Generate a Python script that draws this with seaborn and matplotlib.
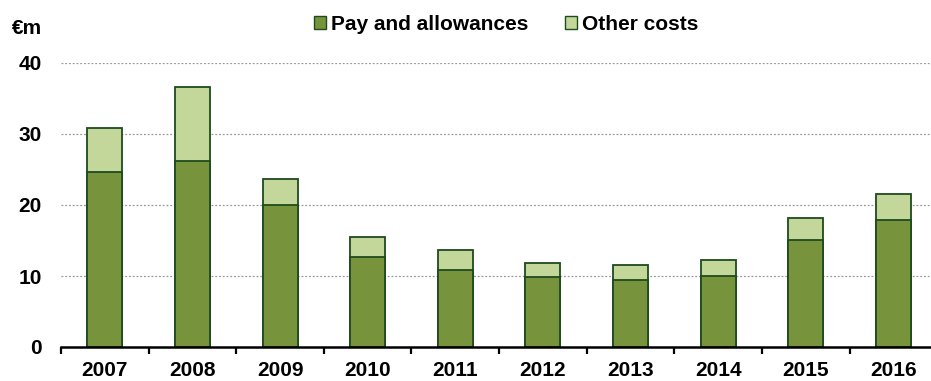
import matplotlib
matplotlib.use("Agg")
import matplotlib.pyplot as plt
import seaborn as sns
import pandas as pd
import numpy as np
from matplotlib.patches import Patch
from matplotlib.ticker import FixedLocator

years = ["2007", "2008", "2009", "2010", "2011", "2012", "2013", "2014", "2015", "2016"]
pay = [24.6, 26.2, 20.0, 12.7, 10.9, 9.9, 9.5, 10.0, 15.1, 17.9]
other = [6.3, 10.4, 3.7, 2.8, 2.7, 1.9, 2.1, 2.2, 3.0, 3.6]
yticks = [0, 10, 20, 30, 40]

sns.set_theme(style="white")
plt.rcParams["font.family"] = ["Liberation Sans", "DejaVu Sans"]
plt.rcParams["font.weight"] = "bold"
plt.rcParams["text.color"] = "black"

df = pd.DataFrame({"year": years, "pay": pay, "other": other})
df["total"] = df["pay"] + df["other"]

pay_col = "#77933C"
oth_col = "#C4D79B"
edge = "#1E4A1E"
fs = 15

fig = plt.figure(figsize=(9.31, 3.81), dpi=100)
ax = fig.add_axes([61/931, 1 - 347/381, 1 - 61/931, (347 - 63)/381])

sns.barplot(data=df, x="year", y="total", color=oth_col, width=0.4,
            edgecolor=edge, linewidth=1.3, saturation=1, ax=ax, zorder=3)
sns.barplot(data=df, x="year", y="pay", color=pay_col, width=0.4,
            edgecolor=edge, linewidth=1.3, saturation=1, ax=ax, zorder=4)

ax.set_ylim(0, 40)
ax.set_xlim(-0.5, 9.43)
ax.set_yticks(yticks)
ax.set_yticklabels([str(v) for v in yticks], fontsize=fs, fontweight="bold")
for v in yticks[1:]:
    ax.axhline(v, color="#999999", linestyle=(0, (1.5, 1.5)), linewidth=0.9, zorder=1)
ax.set_xlabel("")
ax.set_ylabel("")
ax.tick_params(axis="y", length=0, pad=14, colors="black", labelcolor="black")
ax.tick_params(axis="x", which="major", length=0, pad=10, labelsize=fs,
               colors="black", labelcolor="black")
for lab in ax.get_xticklabels():
    lab.set_fontweight("bold")
ax.xaxis.set_minor_locator(FixedLocator(np.arange(-0.5, 10, 1.0)))
ax.tick_params(axis="x", which="minor", bottom=True, length=5, width=1.6,
               direction="out", color="black")

for s in ["left", "right", "top"]:
    ax.spines[s].set_visible(False)
ax.spines["bottom"].set_linewidth(1.8)
ax.spines["bottom"].set_color("black")
ax.spines["bottom"].set_zorder(5)

fig.text(12/931, 1 - 28/381, "€m", fontsize=fs, fontweight="bold", va="center",
         ha="left", color="black")

handles = [Patch(facecolor=pay_col, edgecolor=edge, linewidth=1.0, label="Pay and allowances"),
           Patch(facecolor=oth_col, edgecolor=edge, linewidth=1.0, label="Other costs")]
fig.legend(handles=handles, loc="center", bbox_to_anchor=(506/931, 1 - 24/381), ncol=2,
           frameon=False, prop={"size": fs, "weight": "bold"}, handlelength=0.58,
           handleheight=0.58, handletextpad=0.25, columnspacing=1.75, borderaxespad=0,
           labelcolor="black")

fig.savefig("out.png", dpi=100)
